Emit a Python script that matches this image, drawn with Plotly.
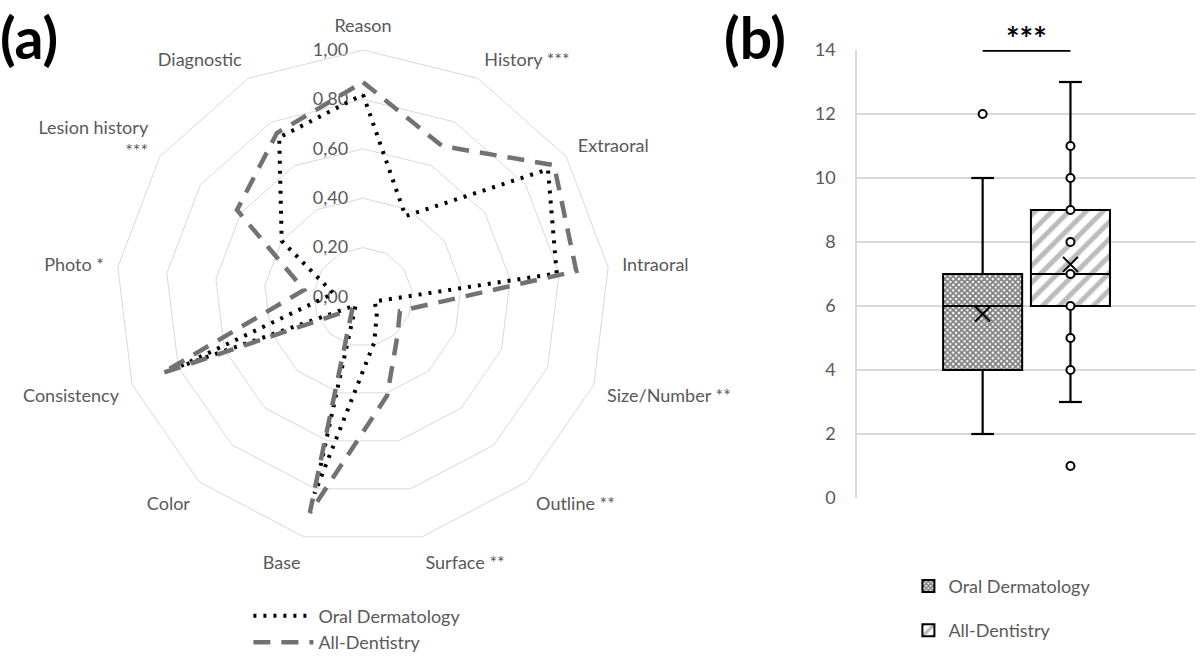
import plotly.graph_objects as go

# ---------------- data: radar (a) ----------------
categories = ["Reason", "History ***", "Extraoral", "Intraoral", "Size/Number **",
              "Outline **", "Surface **", "Base", "Color", "Consistency",
              "Photo *", "Lesion history<br>***", "Diagnostic"]
oral_derm = [0.82, 0.37, 0.91, 0.79, 0.05, 0.085, 0.19, 0.82, 0.045, 0.79, 0.12, 0.40, 0.73]
all_dent = [0.87, 0.69, 0.94, 0.87, 0.16, 0.21, 0.41, 0.90, 0.065, 0.87, 0.24, 0.62, 0.75]
radial_tickvals = [0, 0.2, 0.4, 0.6, 0.8, 1.0]
radial_ticktext = ["0,00", "0,20", "0,40", "0,60", "0,80", "1,00"]

# ---------------- data: box plot (b) ----------------
box_names = ["Oral Dermatology", "All-Dentistry"]
box_q1 = [4, 6]
box_median = [6, 7]
box_q3 = [7, 9]
box_whisk_lo = [2, 3]
box_whisk_hi = [10, 13]
box_mean = [5.75, 7.3]
box_points = [[12], [1, 4, 5, 6, 7, 8, 9, 10, 11]]
y_ticks = [0, 2, 4, 6, 8, 10, 12, 14]

TXT = "#595959"
GRID = "#d9d9d9"
FONT = "Lato"

fig = go.Figure()

# radar traces
fig.add_trace(go.Scatterpolar(
    r=oral_derm + [oral_derm[0]], theta=categories + [categories[0]],
    mode="lines", name="Oral Dermatology",
    line=dict(color="black", width=4, dash="3px,7px"),
    legend="legend", hoverinfo="skip"))
fig.add_trace(go.Scatterpolar(
    r=all_dent + [all_dent[0]], theta=categories + [categories[0]],
    mode="lines", name="All-Dentistry",
    line=dict(color="#767171", width=4.5, dash="17px,11px"),
    legend="legend", hoverinfo="skip"))

# box plot
positions = [1, 2]
half = 0.45
cap = 0.13
patterns = [dict(shape="x", size=4, solidity=0.7, fgcolor="black", bgcolor="white"),
            dict(shape="/", size=12, solidity=0.42, fgcolor="#7a7a7a", bgcolor="white")]

for i, name in enumerate(box_names):
    p = positions[i]
    fig.add_trace(go.Bar(
        x=[p], y=[box_q3[i] - box_q1[i]], base=[box_q1[i]], width=[2 * half],
        name=name, legend="legend2", legendgroup=name,
        marker=dict(color="white", pattern=patterns[i], line=dict(color="black", width=2)),
        xaxis="x", yaxis="y", hoverinfo="skip"))

for i, name in enumerate(box_names):
    p = positions[i]
    fig.add_trace(go.Scatter(
        x=[p, p, None, p, p, None, p - cap, p + cap, None, p - cap, p + cap],
        y=[box_q3[i], box_whisk_hi[i], None, box_q1[i], box_whisk_lo[i], None,
           box_whisk_hi[i], box_whisk_hi[i], None, box_whisk_lo[i], box_whisk_lo[i]],
        mode="lines", line=dict(color="black", width=2.2), showlegend=False,
        hoverinfo="skip", cliponaxis=False))
    fig.add_trace(go.Scatter(
        x=[p - half, p + half], y=[box_median[i], box_median[i]],
        mode="lines", line=dict(color="black", width=2), showlegend=False, hoverinfo="skip"))
    fig.add_trace(go.Scatter(
        x=[p] * len(box_points[i]), y=box_points[i], mode="markers",
        marker=dict(symbol="circle", size=8, color="white", line=dict(color="black", width=2)),
        showlegend=False, hoverinfo="skip"))
    fig.add_trace(go.Scatter(
        x=[p], y=[box_mean[i]], mode="markers",
        marker=dict(symbol="x-thin", size=15, line=dict(color="black", width=2)),
        showlegend=False, hoverinfo="skip"))

# significance bar
fig.add_trace(go.Scatter(
    x=positions, y=[14, 14], mode="lines", line=dict(color="black", width=3.5),
    showlegend=False, hoverinfo="skip", cliponaxis=False))

fig.update_layout(
    width=1200, height=664,
    margin=dict(l=0, r=0, t=0, b=0, autoexpand=False),
    paper_bgcolor="white", plot_bgcolor="white",
    font=dict(family=FONT, size=18, color=TXT),
    barmode="overlay",
    polar=dict(
        domain=dict(x=[0.0967, 0.5083], y=[0.1807, 0.9247]),
        gridshape="linear", bgcolor="white",
        angularaxis=dict(
            type="category", categoryarray=categories, rotation=90, direction="clockwise",
            showgrid=False, showline=True, linecolor=GRID, linewidth=1,
            ticks="outside", ticklen=10, tickcolor="rgba(0,0,0,0)",
            tickfont=dict(size=18, color=TXT, family=FONT)),
        radialaxis=dict(
            range=[0, 1], tickvals=radial_tickvals, ticktext=radial_ticktext,
            angle=90, tickangle=90, side="counterclockwise", showline=False,
            gridcolor=GRID, gridwidth=1, layer="below traces",
            ticks="outside", ticklen=8, tickcolor="rgba(0,0,0,0)",
            tickfont=dict(size=18, color=TXT, family=FONT)),
    ),
    xaxis=dict(domain=[0.7142, 0.9967], range=[-0.43, 3.43], showticklabels=False,
               showgrid=False, zeroline=False, showline=False, fixedrange=True),
    yaxis=dict(domain=[0.25, 0.9247], range=[0, 14], tickvals=y_ticks,
               showgrid=True, gridcolor=GRID, gridwidth=1.5, zeroline=False,
               showline=True, linecolor=GRID, linewidth=1.5,
               ticks="", ticklabelstandoff=16,
               tickfont=dict(size=18, color=TXT, family=FONT)),
    legend=dict(x=0.207, y=0.1, xanchor="left", yanchor="top", itemwidth=60,
                font=dict(size=18, color=TXT, family=FONT), bgcolor="rgba(0,0,0,0)",
                tracegroupgap=0),
    legend2=dict(x=0.757, y=0.145, xanchor="left", yanchor="top",
                 font=dict(size=18, color=TXT, family=FONT), bgcolor="rgba(0,0,0,0)",
                 tracegroupgap=18),
    annotations=[
        dict(text="<b>(a)</b>", xref="paper", yref="paper", x=-0.002, y=0.998,
             xanchor="left", yanchor="top", showarrow=False,
             font=dict(size=57, color="black", family=FONT)),
        dict(text="<b>(b)</b>", xref="paper", yref="paper", x=0.602, y=0.998,
             xanchor="left", yanchor="top", showarrow=False,
             font=dict(size=57, color="black", family=FONT)),
        dict(text="<b>***</b>", xref="x", yref="y", x=1.5, y=14,
             xanchor="center", yanchor="bottom", yshift=-10, showarrow=False,
             font=dict(size=32, color="black", family=FONT)),
    ],
)

fig.write_html("out.html", config={"displayModeBar": False},
               post_script="document.body.style.margin='0';document.body.style.overflow='hidden';")
